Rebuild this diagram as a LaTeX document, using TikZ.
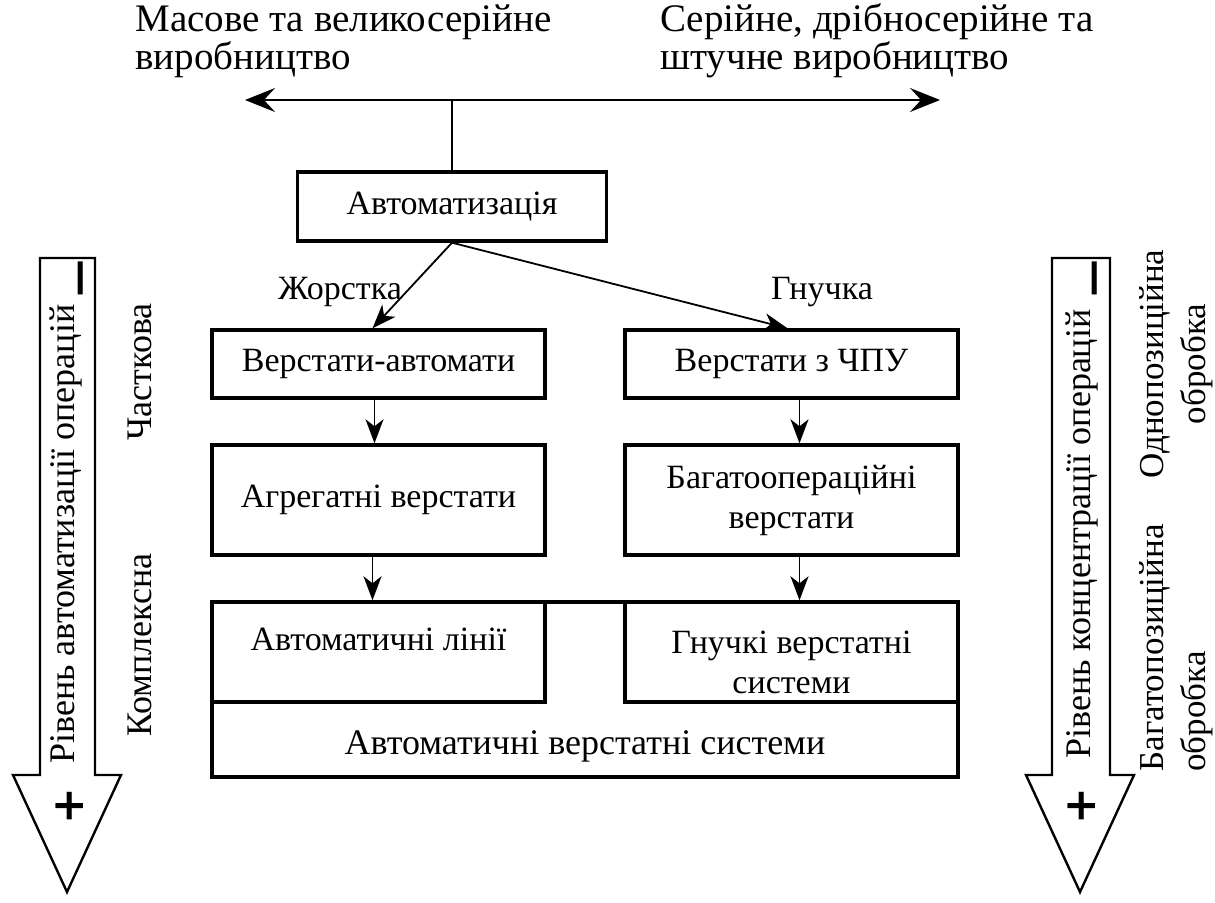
\documentclass[tikz,border=0pt]{standalone}
\usepackage{fontspec}
\setmainfont{Liberation Serif}
\newfontfamily\symfont{DejaVu Sans}
\usetikzlibrary{arrows.meta}
\begin{document}
\begin{tikzpicture}[x=0.5pt,y=-0.5pt,
  txt/.style={font=\fontsize{17pt}{20pt}\selectfont, inner sep=0pt},
  toptxt/.style={font=\fontsize{19.5pt}{19pt}\selectfont, inner sep=0pt, align=left, anchor=west},
  rtxt/.style={font=\fontsize{18pt}{21pt}\selectfont, inner sep=0pt, rotate=90},
  box/.style={txt, draw, line width=1.7pt, align=center, minimum width=166.5pt},
  conn/.style={line width=0.9pt, -{Stealth[length=12pt,width=9pt,inset=3.5pt]}},
  bigarrow/.style={draw, line width=1.2pt, line join=miter},
  sym/.style={font=\symfont\bfseries\fontsize{22pt}{22pt}\selectfont, inner sep=0pt, rotate=90}
]
\useasboundingbox (0,0) rectangle (1215,903);

% top texts
\node[toptxt] (tl) at (135,41) {Масове та великосерійне\\виробництво};
\node[toptxt] (tr) at (660,41) {Серійне, дрібносерійне та\\штучне виробництво};

% horizontal double arrow
\coordinate (hl) at (245,100);
\coordinate (hr) at (940,100);
\draw[line width=0.9pt, {Stealth[length=15pt,width=12pt,inset=5.5pt]}-{Stealth[length=15pt,width=12pt,inset=5.5pt]}] (hl) -- (hr);

% boxes
\node[box, minimum width=154.5pt, minimum height=34.5pt] (auto) at (452,206.5) {Автоматизація};
\node[box, minimum height=34pt] (va) at (378.5,364) {Верстати-автомати};
\node[box, minimum height=34pt] (vc) at (791.5,364) {Верстати з ЧПУ};
\node[box, minimum height=55pt] (ag) at (378.5,500) {Агрегатні верстати};
\node[box, minimum height=55pt] (bo) at (791.5,500) {Багатоопераційні\\верстати};
\node[draw, line width=1.7pt, minimum width=373pt, minimum height=87.5pt, inner sep=0pt] (avs) at (585,689.5) {};
\node[txt, font=\fontsize{18pt}{20pt}\selectfont] (avst) at ([yshift=16pt]avs.south) {Автоматичні верстатні системи};
\node[box, minimum height=50pt] (al) at (378.5,652) {\rule{0pt}{22pt}Автоматичні лінії\\\phantom{Гнучкі}};
\node[box, minimum height=50pt] (gv) at (791.5,652) {\rule{0pt}{22pt}Гнучкі верстатні\\системи};

\draw[line width=0.9pt] (auto.north) -- (auto.north |- hl);

% connectors
\draw[conn] (auto.south) -- ([xshift=-3pt]va.north);
\draw[conn] (auto.south) -- ([xshift=-2pt]vc.north);
\node[txt] (zh) at (340,292) {Жорстка};
\node[txt] (gn) at (822,292) {Гнучка};
\draw[conn] ([xshift=-2pt]va.south) -- ([xshift=-2pt]ag.north);
\draw[conn] ([xshift=4pt]vc.south) -- ([xshift=4pt]bo.north);
\draw[conn] ([xshift=-3pt]ag.south) -- ([xshift=-3pt]al.north);
\draw[conn] ([xshift=4pt]bo.south) -- ([xshift=4pt]gv.north);

% left big arrow
\draw[bigarrow] (40,258) -- (95,258) -- (95,775) -- (121,775) -- (67,892) -- (13,775) -- (40,775) -- cycle;
\node[rtxt] (la) at (66,534) {Рівень автоматизації операцій};
\node[sym, xscale=1.2] (lm) at (86,278) {−};
\node[sym] (lp) at (70,806) {+};
\node[rtxt] (ch) at (140,372) {Часткова};
\node[rtxt] (ko) at (140,645) {Комплексна};

% right big arrow
\draw[bigarrow] (1052,258) -- (1110,258) -- (1110,775) -- (1134,775) -- (1080,892) -- (1026,775) -- (1052,775) -- cycle;
\node[rtxt] (ra) at (1082,534) {Рівень концентрації операцій};
\node[sym, xscale=1.2] (rm) at (1100,278) {−};
\node[sym] (rp) at (1082,806) {+};
\node[rtxt, align=center, font=\fontsize{17.5pt}{21pt}\selectfont] (od) at (1176,364) {Однопозиційна\\обробка};
\node[rtxt, align=left, font=\fontsize{17.5pt}{21pt}\selectfont] (bg) at (1176,648) {Багатопозиційна\\обробка};
\end{tikzpicture}
\end{document}
